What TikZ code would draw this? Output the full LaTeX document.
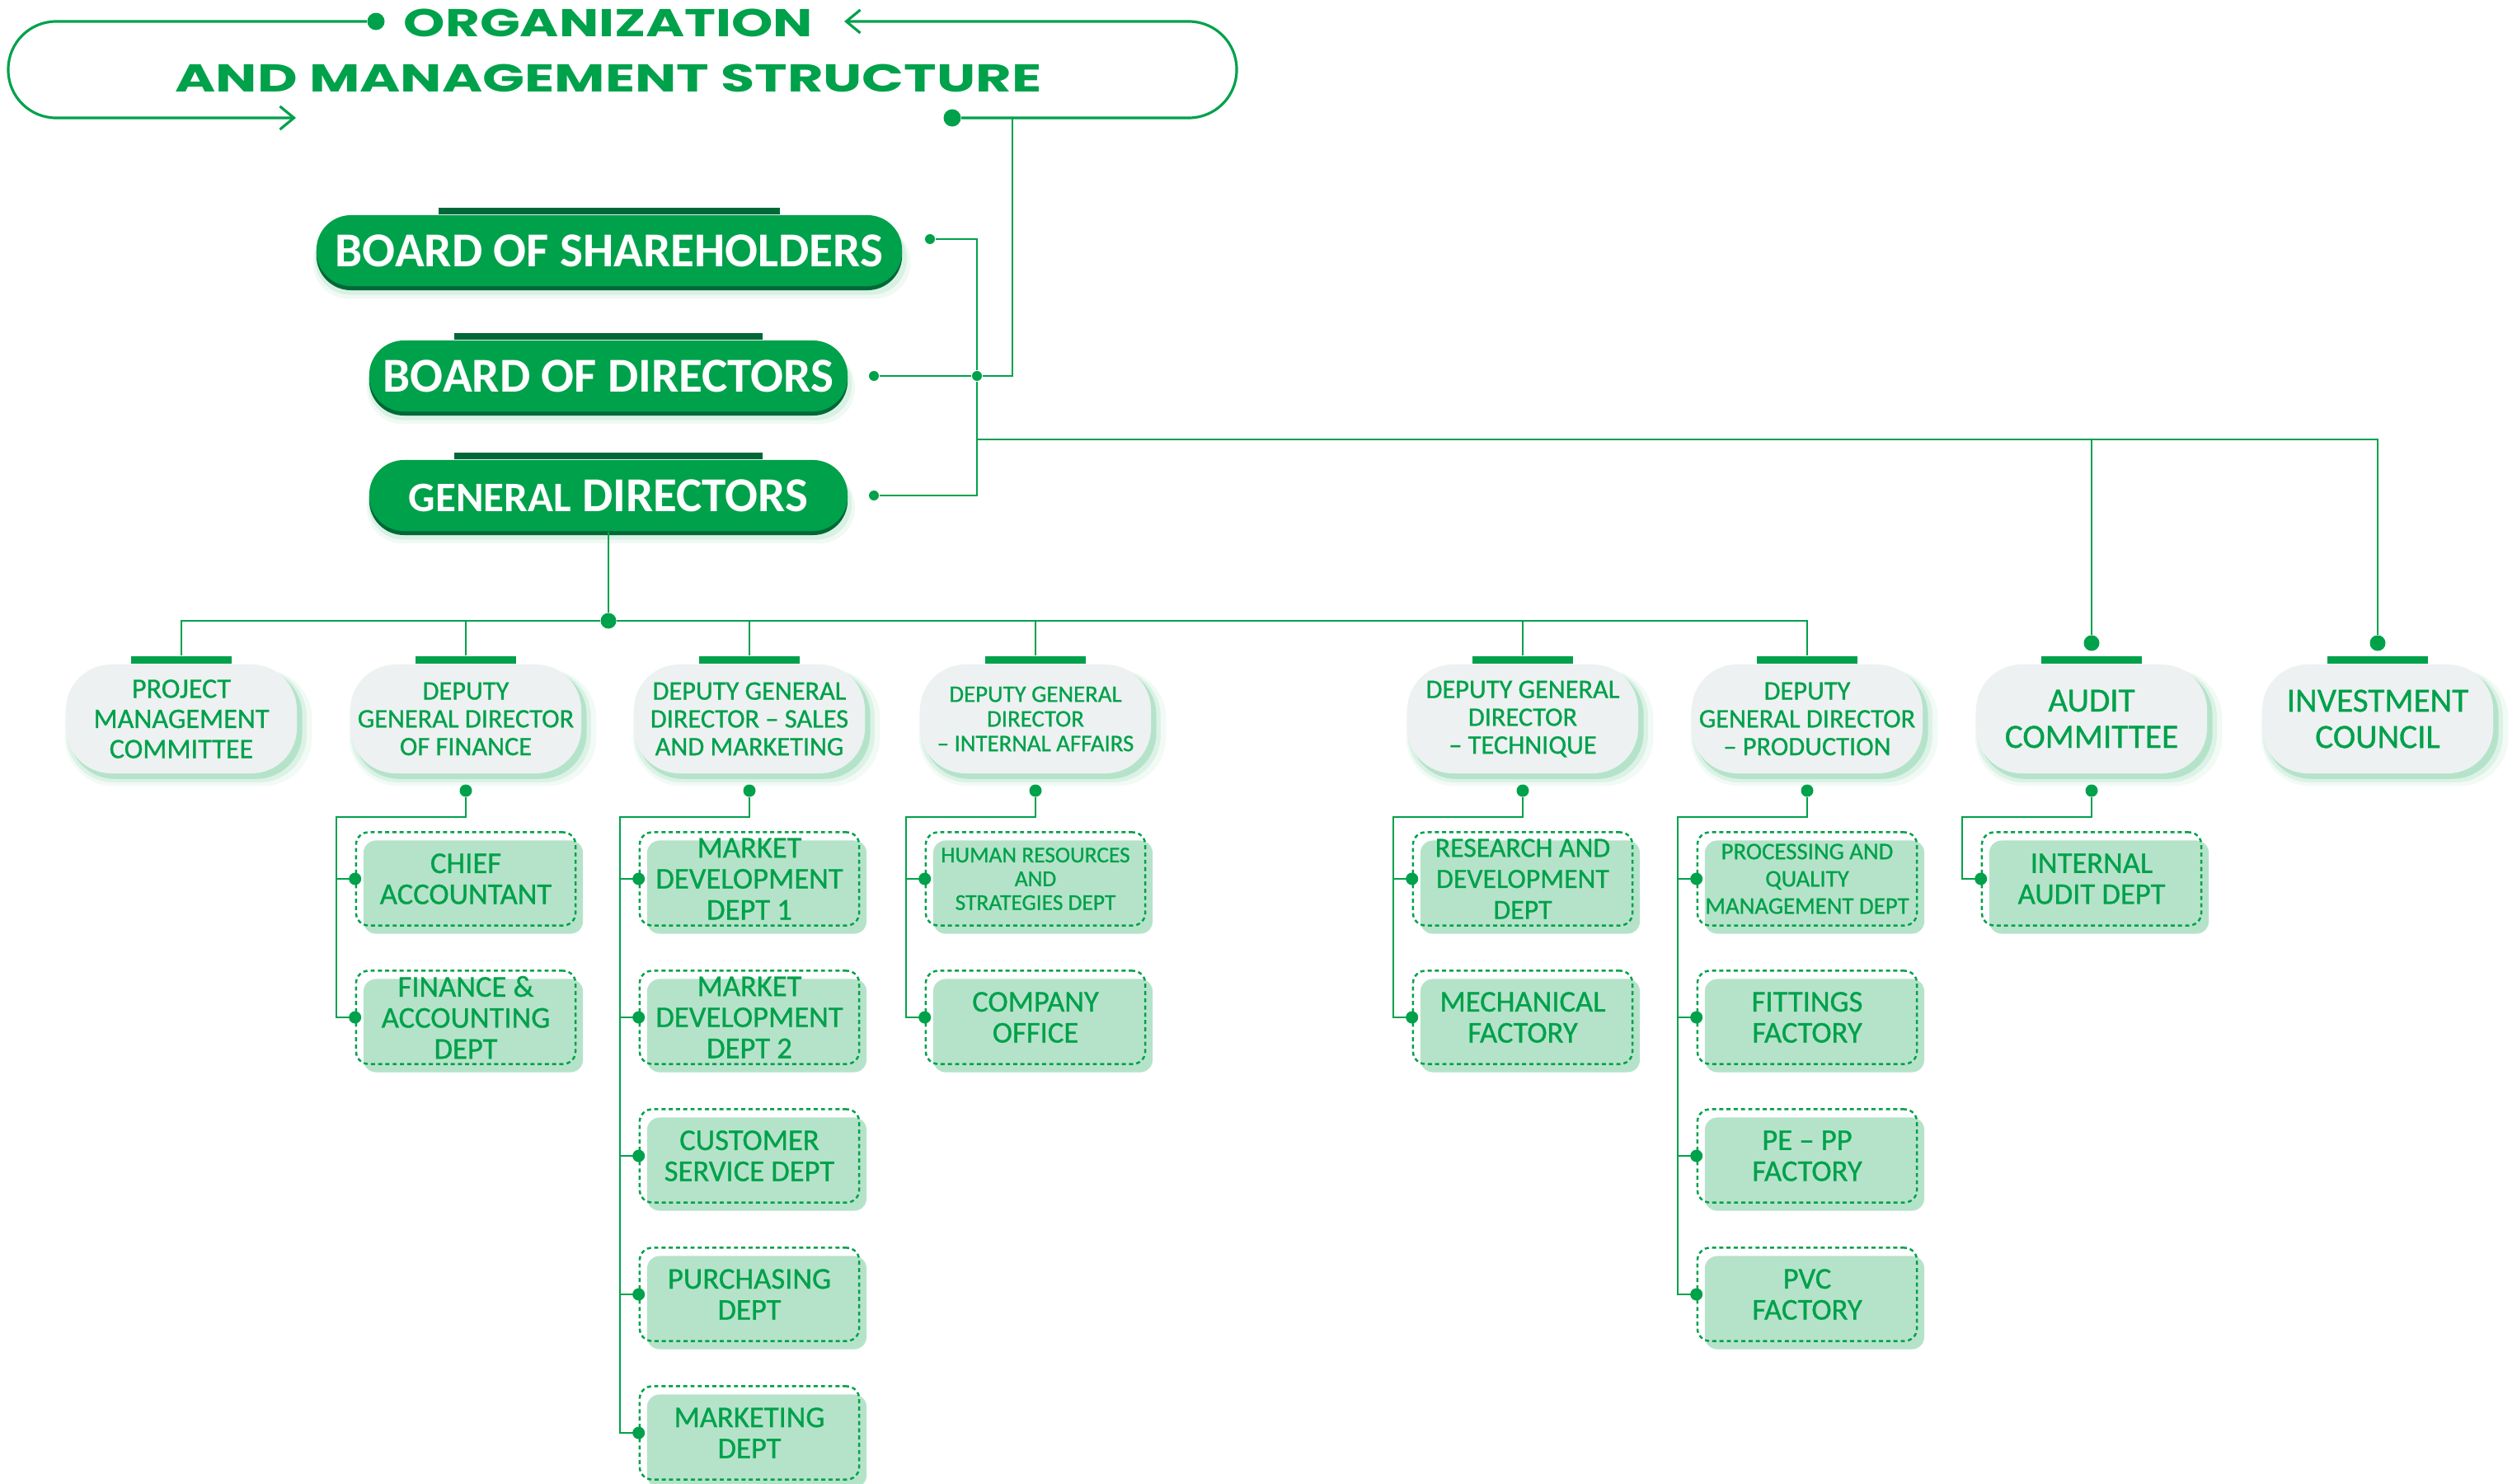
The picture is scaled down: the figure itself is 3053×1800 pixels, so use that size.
\documentclass[tikz,border=0pt]{standalone}
\usepackage{fontspec}
\setmainfont{Carlito}
\newfontfamily\labelfont{Carlito}[FakeBold=0.8,Ligatures=TeX]
\newfontfamily\titlefont{Poppins}
\usepackage{tikz}
\usetikzlibrary{arrows.meta,positioning,shadows}
\definecolor{Leaf}{HTML}{00A14B}
\definecolor{Pine}{HTML}{006838}
\definecolor{Mist}{HTML}{EDF1F1}
\definecolor{Mint}{HTML}{B5E3C9}

\begin{document}
\begin{tikzpicture}[x=0.01cm,y=-0.01cm,
    link/.style={draw=Leaf,line width=0.7pt},
    frame/.style={draw=Leaf,line width=0.9pt,rounded corners=0.58cm},
    joint/.style={circle,fill=Leaf,inner sep=0pt,minimum size=0.15cm},
    hubdot/.style={circle,fill=Leaf,inner sep=0pt,minimum size=0.19cm},
    glow/.style={
      general shadow={fill=Leaf,opacity=0.05,shadow xshift=0.08cm,shadow yshift=-0.10cm,shadow scale=1.07},
      general shadow={fill=Leaf,opacity=0.09,shadow xshift=0.06cm,shadow yshift=-0.08cm,shadow scale=1.04},
      general shadow={fill=Leaf,opacity=0.18,shadow xshift=0.05cm,shadow yshift=-0.06cm,shadow scale=1.01}},
    board glow/.style={
      general shadow={fill=Leaf,opacity=0.06,shadow xshift=0.03cm,shadow yshift=-0.14cm,shadow scale=1.02},
      general shadow={fill=Leaf,opacity=0.10,shadow xshift=0.02cm,shadow yshift=-0.10cm,shadow scale=1.01}},
    board/.style={rounded corners=0.42cm,fill=Leaf,text=white,inner sep=0pt,
      minimum height=0.86cm,font=\bfseries\fontsize{16.8}{18}\selectfont,board glow,
      general shadow={fill=Pine,shadow yshift=-0.05cm}},
    boardbar/.style={fill=Pine,inner sep=0pt,minimum height=0.08cm,anchor=south},
    unit/.style={rounded corners=0.55cm,fill=Mist,text=Leaf,inner sep=0pt,
      minimum width=2.80cm,minimum height=1.32cm,align=center,glow,
      font=\labelfont\fontsize{9.2}{9.6}\selectfont},
    unitbar/.style={fill=Leaf,inner sep=0pt,minimum width=1.22cm,minimum height=0.09cm,anchor=south},
    dept/.style={draw=Leaf,line width=0.7pt,dash pattern=on 1.4pt off 1.1pt,
      rounded corners=0.15cm,text=Leaf,inner sep=0pt,align=center,
      minimum width=2.66cm,minimum height=1.13cm,font=\labelfont\fontsize{10.4}{10.7}\selectfont,
      general shadow={fill=Mint,shadow xshift=0.09cm,shadow yshift=-0.10cm}},
    heading/.style={text=Leaf,inner sep=0pt,font=\titlefont\bfseries\fontsize{13.4}{15}\selectfont}
  ]
  \useasboundingbox (0,0) rectangle (3053,1800);

  % title with its looping frame
  \node[heading] (title-a) at (738,28) {\scalebox{1.36}[1]{ORGANIZATION}};
  \node[heading] (title-b) at (738,95) {\scalebox{1.42}[1]{AND MANAGEMENT STRUCTURE}};
  \node[joint,minimum size=0.21cm] (title-in) at (456,26) {};
  \node[joint,minimum size=0.21cm] (title-out) at (1155,143) {};
  \coordinate (loop-tip) at (359,143);
  \coordinate (loop-head) at (1024,26);
  \coordinate (drop) at (1228,143);
  \draw[frame,-{Straight Barb[length=1.7mm,width=2.8mm]}] (title-in) -- (10,26) -- (10,143) -- (loop-tip);
  \draw[frame,-{Straight Barb[length=1.7mm,width=2.8mm]}] (title-out) -- (1500,143) -- (1500,26) -- (loop-head);

  % boards
  \node[board,minimum width=7.10cm] (shareholders) at (739,304) {BOARD OF SHAREHOLDERS};
  \node[board,minimum width=5.80cm] (directors) at (738,456) {BOARD OF DIRECTORS};
  \node[board,minimum width=5.80cm] (gdir) at (738,601) {{\fontsize{14.5}{16}\selectfont GENERAL} DIRECTORS};
  \node[boardbar,minimum width=4.14cm] (shareholders-bar) at (shareholders.north) {};
  \node[boardbar,minimum width=3.74cm] (directors-bar) at (directors.north) {};
  \node[boardbar,minimum width=3.74cm] (gdir-bar) at (gdir.north) {};

  \node[joint,minimum size=0.12cm] (sh-dot) at (1128,290) {};
  \node[joint,minimum size=0.12cm] (bd-dot) at (1060,456) {};
  \node[joint,minimum size=0.12cm] (gd-dot) at (1060,601) {};
  \node[joint,minimum size=0.12cm] (spine) at (1185,456) {};
  \coordinate (fork) at (1185,533);
  \draw[link] (sh-dot) -| (spine) |- (gd-dot);
  \draw[link] (bd-dot) -- (spine);
  \draw[link] (drop) |- (spine);

  % second level
  \node[unit,font=\labelfont\fontsize{9.7}{10.4}\selectfont] (pmc) at (220,872) {PROJECT\\MANAGEMENT\\COMMITTEE};
  \node[unit] (dfin) at (565,872) {DEPUTY\\GENERAL DIRECTOR\\OF FINANCE};
  \node[unit] (dsales) at (909,872) {DEPUTY GENERAL\\DIRECTOR -- SALES\\AND MARKETING};
  \node[unit,font=\labelfont\fontsize{8.2}{8.5}\selectfont] (dint) at (1256,872) {DEPUTY GENERAL\\DIRECTOR\\-- INTERNAL AFFAIRS};
  \node[unit] (dtech) at (1847,872) {DEPUTY GENERAL\\DIRECTOR\\-- TECHNIQUE};
  \node[unit] (dprod) at (2192,872) {DEPUTY\\GENERAL DIRECTOR\\-- PRODUCTION};
  \node[unit,font=\labelfont\fontsize{11.7}{12.5}\selectfont] (audit) at (2537,872) {AUDIT\\COMMITTEE};
  \node[unit,font=\labelfont\fontsize{11.7}{12.5}\selectfont] (invest) at (2884,872) {INVESTMENT\\COUNCIL};
  \node[unitbar] (pmc-bar) at (pmc.north) {};
  \node[unitbar] (dfin-bar) at (dfin.north) {};
  \node[unitbar] (dsales-bar) at (dsales.north) {};
  \node[unitbar] (dint-bar) at (dint.north) {};
  \node[unitbar] (dtech-bar) at (dtech.north) {};
  \node[unitbar] (dprod-bar) at (dprod.north) {};
  \node[unitbar] (audit-bar) at (audit.north) {};
  \node[unitbar] (invest-bar) at (invest.north) {};

  \node[hubdot] (hub) at (738,753) {};
  \draw[link] (gdir) -- (hub);
  \draw[link] (hub) -| (pmc-bar);
  \draw[link] (hub) -| (dfin-bar);
  \draw[link] (hub) -| (dsales-bar);
  \draw[link] (hub) -| (dint-bar);
  \draw[link] (hub) -| (dtech-bar);
  \draw[link] (hub) -| (dprod-bar);

  \node[hubdot] (audit-in) at (2537,780) {};
  \node[hubdot] (invest-in) at (2884,780) {};
  \draw[link] (fork) -| (audit-in);
  \draw[link] (fork) -| (invest-in);

  % departments
  \node[dept] (fin1) at (565,1066) {CHIEF\\ACCOUNTANT};
  \node[dept] (fin2) at (565,1234) {FINANCE \&\\ACCOUNTING\\DEPT};

  \node[dept] (sal1) at (909,1066) {MARKET\\DEVELOPMENT\\DEPT 1};
  \node[dept] (sal2) at (909,1234) {MARKET\\DEVELOPMENT\\DEPT 2};
  \node[dept] (sal3) at (909,1402) {CUSTOMER\\SERVICE DEPT};
  \node[dept] (sal4) at (909,1570) {PURCHASING\\DEPT};
  \node[dept] (sal5) at (909,1738) {MARKETING\\DEPT};

  \node[dept,font=\labelfont\fontsize{7.8}{8.2}\selectfont] (int1) at (1256,1066) {HUMAN RESOURCES\\AND\\STRATEGIES DEPT};
  \node[dept] (int2) at (1256,1234) {COMPANY\\OFFICE};

  \node[dept,font=\labelfont\fontsize{9.6}{10.7}\selectfont] (tec1) at (1847,1066) {RESEARCH AND\\DEVELOPMENT\\DEPT};
  \node[dept] (tec2) at (1847,1234) {MECHANICAL\\FACTORY};

  \node[dept,font=\labelfont\fontsize{8.2}{9.4}\selectfont] (pro1) at (2192,1066) {PROCESSING AND\\QUALITY\\MANAGEMENT DEPT};
  \node[dept] (pro2) at (2192,1234) {FITTINGS\\FACTORY};
  \node[dept] (pro3) at (2192,1402) {PE -- PP\\FACTORY};
  \node[dept] (pro4) at (2192,1570) {PVC\\FACTORY};

  \node[dept] (aud1) at (2537,1066) {INTERNAL\\AUDIT DEPT};

  % outlets and rails
  \node[joint] (dfin-out) at (565,959) {};
  \node[joint] (dsales-out) at (909,959) {};
  \node[joint] (dint-out) at (1256,959) {};
  \node[joint] (dtech-out) at (1847,959) {};
  \node[joint] (dprod-out) at (2192,959) {};
  \node[joint] (audit-out) at (2537,959) {};
  \coordinate (dfin-rail) at (408,991);
  \coordinate (dsales-rail) at (752,991);
  \coordinate (dint-rail) at (1099,991);
  \coordinate (dtech-rail) at (1690,991);
  \coordinate (dprod-rail) at (2035,991);
  \coordinate (audit-rail) at (2380,991);

  \draw[link] (dfin-out) |- (dfin-rail) |- (fin1);
  \draw[link] (dfin-rail) |- (fin2);
  \draw[link] (dsales-out) |- (dsales-rail) |- (sal1);
  \draw[link] (dsales-rail) |- (sal2);
  \draw[link] (dsales-rail) |- (sal3);
  \draw[link] (dsales-rail) |- (sal4);
  \draw[link] (dsales-rail) |- (sal5);
  \draw[link] (dint-out) |- (dint-rail) |- (int1);
  \draw[link] (dint-rail) |- (int2);
  \draw[link] (dtech-out) |- (dtech-rail) |- (tec1);
  \draw[link] (dtech-rail) |- (tec2);
  \draw[link] (dprod-out) |- (dprod-rail) |- (pro1);
  \draw[link] (dprod-rail) |- (pro2);
  \draw[link] (dprod-rail) |- (pro3);
  \draw[link] (dprod-rail) |- (pro4);
  \draw[link] (audit-out) |- (audit-rail) |- (aud1);

  \foreach \d in {fin1,fin2,sal1,sal2,sal3,sal4,sal5,int1,int2,tec1,tec2,pro1,pro2,pro3,pro4,aud1}
    \node[joint] (\d-pin) at (\d.west) {};
\end{tikzpicture}
\end{document}
